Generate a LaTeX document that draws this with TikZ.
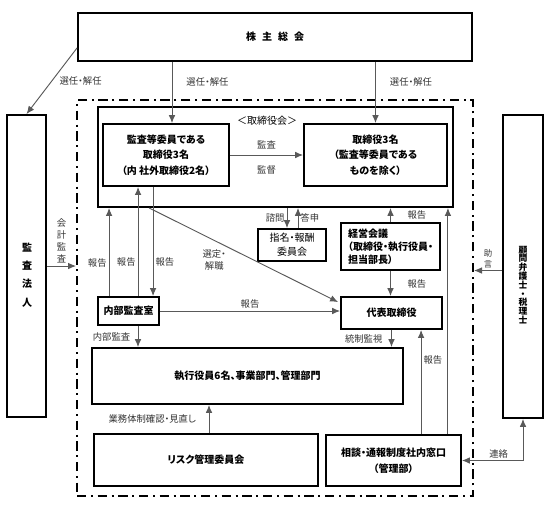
\documentclass[tikz,border=0pt]{standalone}
\usepackage{fontspec}
\setmainfont{Noto Sans CJK JP}[RawFeature=+palt]
\usetikzlibrary{arrows.meta,calc}

\tikzset{every picture/.style={line width=0.75pt}}
\tikzset{
  box/.style={draw, line width=1.4pt, align=center, inner sep=0pt,
    font=\fontsize{7.5}{11.6}\selectfont\bfseries},
  sz/.style 2 args={minimum width=#1*0.75pt, minimum height=#2*0.75pt},
  frame/.style={draw, line width=1.5pt, inner sep=0pt,
    dash pattern=on 7pt off 3.5pt on 1.5pt off 3.5pt},
  arr/.style={draw=black!65, line width=0.7pt, -{Latex[length=6pt,width=5pt]}},
  biarr/.style={draw=black!65, line width=0.7pt,
    {Latex[length=6pt,width=5pt]}-{Latex[length=6pt,width=5pt]}},
  lbl/.style={text=black!80, inner sep=1.5pt, font=\fontsize{7}{9}\selectfont},
  tate/.style={align=center, inner sep=0pt, font=\fontsize{#1}{#1}\selectfont\bfseries},
}

\begin{document}
\begin{tikzpicture}[x=0.75pt,y=0.75pt,yscale=-1,xscale=1]
\useasboundingbox (0,0) rectangle (559,515);

%Shape: Rectangle [id:frame]
\node[frame, sz={396}{396}] (frame) at (275,298) {};
%Shape: Rectangle [id:soukai]
\node[box, sz={394}{48}] (soukai) at (275,37) {株\hspace{0.6em}主\hspace{0.6em}総\hspace{0.6em}会};
%Shape: Rectangle [id:kansa]
\node[box, sz={39}{302}] (kansa) at (26.5,266) {};
% Text Node
\node[tate=7.5, font=\fontsize{7.5}{13.7}\selectfont\bfseries] (kansatxt) at (27,275) {監\\査\\法\\人};
%Shape: Rectangle [id:komon]
\node[box, sz={40}{303}] (komon) at (523,266.5) {};
% Text Node
\node[tate=6.6] (komontxt) at (523,285) {顧\\問\\弁\\護\\士\\・\\税\\理\\士};

%Shape: Rectangle [id:board]
\node[box, sz={355}{100}] (board) at (275.5,157) {};
% Text Node
\node[inner sep=0pt, font=\fontsize{7.5}{9}\selectfont] (boardttl) at (267,121) {＜取締役会＞};
\node[box, sz={126}{62}] (auditdir) at (166,155) {監査等委員である\\取締役3名\\（内 社外取締役2名）};
\node[box, sz={143}{62}] (dirs) at (375.5,155) {取締役3名\\（監査等委員である\\ものを除く）};

%Shape: Rectangle [id:middle]
\node[box, sz={68}{32}, font=\fontsize{7.5}{10.5}\selectfont] (nomination) at (292,245) {指名・報酬\\委員会};
\node[box, sz={99}{47}, align=left, font=\fontsize{7.5}{9.8}\selectfont\bfseries] (keiei) at (390.5,246.5) {経営会議\\（取締役・執行役員・\\担当部長）};
\node[box, sz={61}{28}] (naibu) at (128.5,311) {内部監査室};
\node[box, sz={101}{32}] (daihyo) at (391.5,313) {代表取締役};

%Shape: Rectangle [id:bottom]
\node[box, sz={311}{56}] (shikko) at (247.5,376) {執行役員6名、事業部門、管理部門};
\node[box, sz={224}{52}] (risk) at (206,460) {リスク管理委員会};
\node[box, sz={135}{51}] (soudan) at (393.5,460.5) {相談・通報制度社内窓口\\（管理部）};

%Straight Lines [id:elect]
\coordinate (s0) at ($(soukai.south west)+(0,-14)$);
\draw[arr] (s0) -- (kansa.north) node[lbl, midway, right=4pt] {選任・解任};
\coordinate (a1) at ($(auditdir.north)+(6,0)$);
\draw[arr] (a1 |- soukai.south) -- (a1) node[lbl, pos=0.33, right=9pt] {選任・解任};
\draw[arr] (dirs.north |- soukai.south) -- (dirs.north) node[lbl, pos=0.33, right=9pt] {選任・解任};
\draw[arr] (auditdir.east) -- (dirs.west) node[lbl, midway, above, inner ysep=4pt] {監査}
  node[lbl, midway, below, inner ysep=8pt] {監督};

%Straight Lines [id:report]
\coordinate (r1) at ($(naibu.north west)+(12,0)$);
\coordinate (r2) at ($(naibu.north west)+(41,0)$);
\coordinate (r3) at ($(naibu.north west)+(56,0)$);
\draw[arr] (r1) -- (r1 |- board.south) node[lbl, pos=0.38, left] {報告};
\draw[arr] (r2) -- (r2 |- auditdir.south) node[lbl, pos=0.31, left] {報告};
\draw[arr] (r3 |- auditdir.south) -- (r3) node[lbl, pos=0.69, right] {報告};
\coordinate (d0) at ($(board.south west)+(52,0)$);
\coordinate (d1) at ($(daihyo.north west)+(-2,6)$);
\draw[arr] (d0) -- (d1) node[lbl, pos=0.42, below left, align=center] {選定・\\解職};
\draw[arr] (naibu.east) -- (naibu.east -| daihyo.west) node[lbl, midway, above] {報告};

%Straight Lines [id:nomination]
\coordinate (n1) at ($(nomination.north)+(-5,0)$);
\coordinate (n2) at ($(nomination.north)+(6,0)$);
\draw[arr] (n1 |- board.south) -- (n1) node[lbl, midway, left] {諮問};
\draw[arr] (n2) -- (n2 |- board.south) node[lbl, midway, right] {答申};

%Straight Lines [id:keiei]
\draw[arr] (keiei.north) -- (keiei.north |- board.south) node[lbl, midway, right=11pt] {報告};
\draw[arr] (keiei.south) -- (keiei.south |- daihyo.north) node[lbl, midway, right=11pt] {報告};
\coordinate (c1) at ($(soudan.north east)+(-14,0)$);
\draw[arr] (c1) -- (c1 |- board.south);
\coordinate (c2) at ($(soudan.north west)+(96,0)$);
\draw[arr] (c2) -- (c2 |- daihyo.south) node[lbl, pos=0.71, right] {報告};
\draw[arr] (daihyo.south) -- (daihyo.south |- shikko.north) node[lbl, midway, left=5pt] {統制監視};

%Straight Lines [id:exec]
\coordinate (i1) at ($(naibu.south)+(9.5,0)$);
\draw[arr] (i1) -- (i1 |- shikko.north) node[lbl, midway, left=4pt] {内部監査};
\coordinate (k1) at ($(risk.north)+(3,0)$);
\draw[arr] (k1) -- (k1 |- shikko.south) node[lbl, midway, left=8pt] {業務体制確認・見直し};

%Straight Lines [id:outside]
\draw[arr] (kansa.east) -- (kansa.east -| frame.west) node[lbl, midway, above, align=center] {会\\計\\監\\査};
\coordinate (k2) at ($(komon.west)+(0,4)$);
\draw[arr] (k2) -- (k2 -| frame.east) node[lbl, midway, above, align=center, font=\fontsize{6.3}{8}\selectfont] {助\\言};
\draw[biarr] (komon.south) |- (soudan.east) node[lbl, pos=0.7, above] {連絡};

\end{tikzpicture}
\end{document}
